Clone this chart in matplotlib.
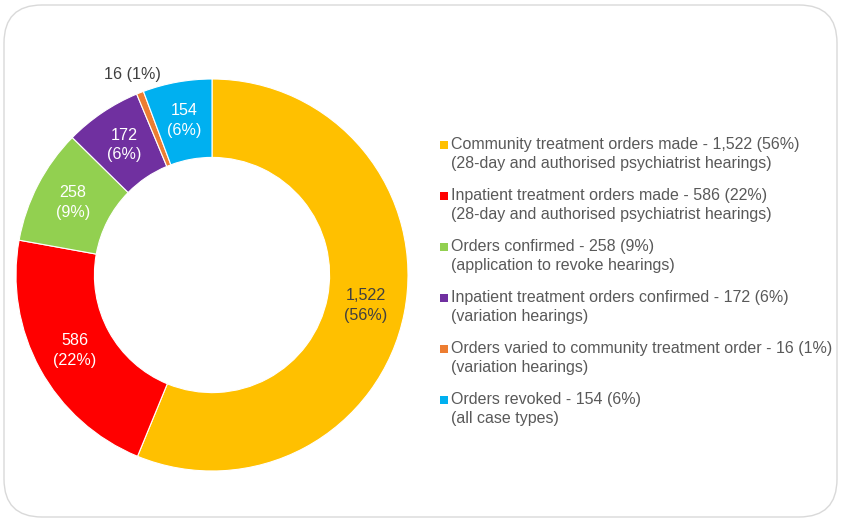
import matplotlib
matplotlib.use("Agg")
import matplotlib.pyplot as plt
from matplotlib.patches import FancyBboxPatch, Rectangle
import numpy as np

plt.rcParams['font.family'] = ['Liberation Sans', 'DejaVu Sans']

categories = [
    "Community treatment orders made",
    "Inpatient treatment orders made",
    "Orders confirmed",
    "Inpatient treatment orders confirmed",
    "Orders varied to community treatment order",
    "Orders revoked",
]
subtitles = [
    "(28-day and authorised psychiatrist hearings)",
    "(28-day and authorised psychiatrist hearings)",
    "(application to revoke hearings)",
    "(variation hearings)",
    "(variation hearings)",
    "(all case types)",
]
values = [1522, 586, 258, 172, 16, 154]
percents = [56, 22, 9, 6, 1, 6]
colors = ["#FFC000", "#FF0000", "#92D050", "#7030A0", "#ED7D31", "#00B0F0"]
label_colors = ["#404040", "white", "white", "white", "#404040", "white"]

W, H = 842, 521
fig = plt.figure(figsize=(W / 100, H / 100), dpi=100)

# rounded border
border = FancyBboxPatch((4 / W, 4 / H), (W - 9) / W, (H - 9) / H,
                        boxstyle="round,pad=0,rounding_size=0.045",
                        transform=fig.transFigure, facecolor="none",
                        edgecolor="#D9D9D9", linewidth=1.0, mutation_aspect=W / H,
                        zorder=-1)
fig.patches.append(border)

cx, cy, r = 212, 275, 196
ax = fig.add_axes([(cx - r) / W, (H - cy - r) / H, 2 * r / W, 2 * r / H])
ax.patch.set_visible(False)
wedges, _ = ax.pie(values, colors=colors, startangle=90, counterclock=False,
                   radius=1, wedgeprops=dict(width=0.4, edgecolor="white", linewidth=0.8))
ax.set_xlim(-1, 1)
ax.set_ylim(-1, 1)
ax.set_aspect("equal")
ax.axis("off")

for i, w in enumerate(wedges):
    ang = np.deg2rad((w.theta1 + w.theta2) / 2)
    if values[i] < 50:
        d = 1.1
        txt = f"{values[i]:,} ({percents[i]}%)"
    else:
        d = 0.8
        txt = f"{values[i]:,}\n({percents[i]}%)"
    ax.text(d * np.cos(ang), d * np.sin(ang), txt, ha="center", va="center",
            fontsize=11.6, color=label_colors[i], linespacing=1.4)

# legend
y0 = 145
step = 51
for i, cat in enumerate(categories):
    y = y0 + i * step
    fig.patches.append(Rectangle((440 / W, (H - y - 4) / H), 8 / W, 8 / H,
                                 transform=fig.transFigure, facecolor=colors[i],
                                 edgecolor="none"))
    fig.text(451 / W, (H - y - 9) / H,
             f"{cat} - {values[i]:,} ({percents[i]}%)\n{subtitles[i]}",
             ha="left", va="center", fontsize=11.5, color="#595959", linespacing=1.35,
             transform=fig.transFigure)

fig.savefig("out.png", dpi=100)
